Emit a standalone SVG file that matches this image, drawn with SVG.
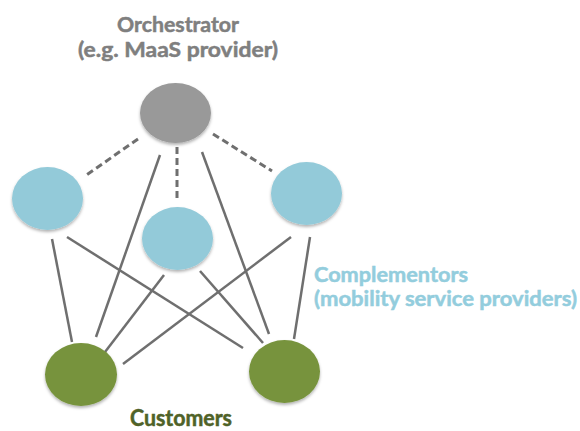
<svg xmlns="http://www.w3.org/2000/svg" width="580" height="431" viewBox="0 0 580 431">
  <defs>
    <filter id="soft" x="-20%" y="-20%" width="140%" height="150%">
      <feDropShadow dx="0" dy="2" stdDeviation="1.5" flood-color="#000" flood-opacity="0.3"/>
    </filter>
  </defs>
  <style>
    .lbl { font-family: Lato, "Open Sans", "Liberation Sans", sans-serif; font-weight: bold; font-size: 21px; stroke-width: 0.5; }
    .gray { fill: #7f7f7f; stroke: #7f7f7f; }
    .blue { fill: #93cddd; stroke: #93cddd; }
    .green { fill: #4f6228; stroke: #4f6228; font-size: 22px; }
    .orch { fill: #999999; filter: url(#soft); }
    .comp { fill: #93cad9; filter: url(#soft); }
    .cust { fill: #77933c; filter: url(#soft); }
    .solid { stroke: #6f6f6f; stroke-width: 2.5; fill: none; }
    .dash { stroke: #6f6f6f; stroke-width: 3; stroke-dasharray: 7 4; fill: none; }
  </style>

  <rect width="580" height="431" fill="#ffffff"/>

  <!-- links -->
  <g id="connectors">
    <line class="dash" x1="138" y1="139" x2="85" y2="176"/>
    <line class="dash" x1="177" y1="147" x2="177" y2="198"/>
    <line class="dash" x1="213" y1="134" x2="272" y2="171"/>

    <line class="solid" x1="160" y1="155" x2="96" y2="337"/>
    <line class="solid" x1="202" y1="152" x2="269" y2="334"/>

    <line class="solid" x1="52" y1="239" x2="72" y2="342"/>
    <line class="solid" x1="67" y1="237" x2="243" y2="348"/>

    <line class="solid" x1="164" y1="275" x2="105" y2="352"/>
    <line class="solid" x1="200" y1="271" x2="263" y2="343"/>

    <line class="solid" x1="291" y1="237" x2="123" y2="364"/>
    <line class="solid" x1="310" y1="237" x2="294" y2="339"/>
  </g>

  <g id="orchestrator">
    <text class="lbl gray" x="178" y="32" text-anchor="middle" textLength="122" lengthAdjust="spacingAndGlyphs">Orchestrator</text>
    <text class="lbl gray" x="178" y="57" text-anchor="middle" textLength="200" lengthAdjust="spacingAndGlyphs">(e.g. MaaS provider)</text>
    <ellipse class="orch" cx="175.5" cy="113" rx="35.5" ry="30"/>
  </g>

  <g id="complementor-left">
    <ellipse class="comp" cx="47.5" cy="198.5" rx="35.5" ry="31.5"/>
  </g>
  <g id="complementor-middle">
    <ellipse class="comp" cx="177.5" cy="238.5" rx="35.5" ry="31.5"/>
  </g>
  <g id="complementor-right">
    <ellipse class="comp" cx="306.5" cy="193.5" rx="35.5" ry="31.5"/>
  </g>
  <g id="complementors-label">
    <text class="lbl blue" x="314" y="282" textLength="154" lengthAdjust="spacingAndGlyphs">Complementors</text>
    <text class="lbl blue" x="314" y="306" textLength="263" lengthAdjust="spacingAndGlyphs">(mobility service providers)</text>
  </g>

  <g id="customer-left">
    <ellipse class="cust" cx="81" cy="374.5" rx="36" ry="31.5"/>
  </g>
  <g id="customer-right">
    <ellipse class="cust" cx="284.5" cy="371.5" rx="35.5" ry="31.5"/>
  </g>
  <g id="customers-label">
    <text class="lbl green" x="130" y="426" textLength="102" lengthAdjust="spacingAndGlyphs">Customers</text>
  </g>
</svg>
